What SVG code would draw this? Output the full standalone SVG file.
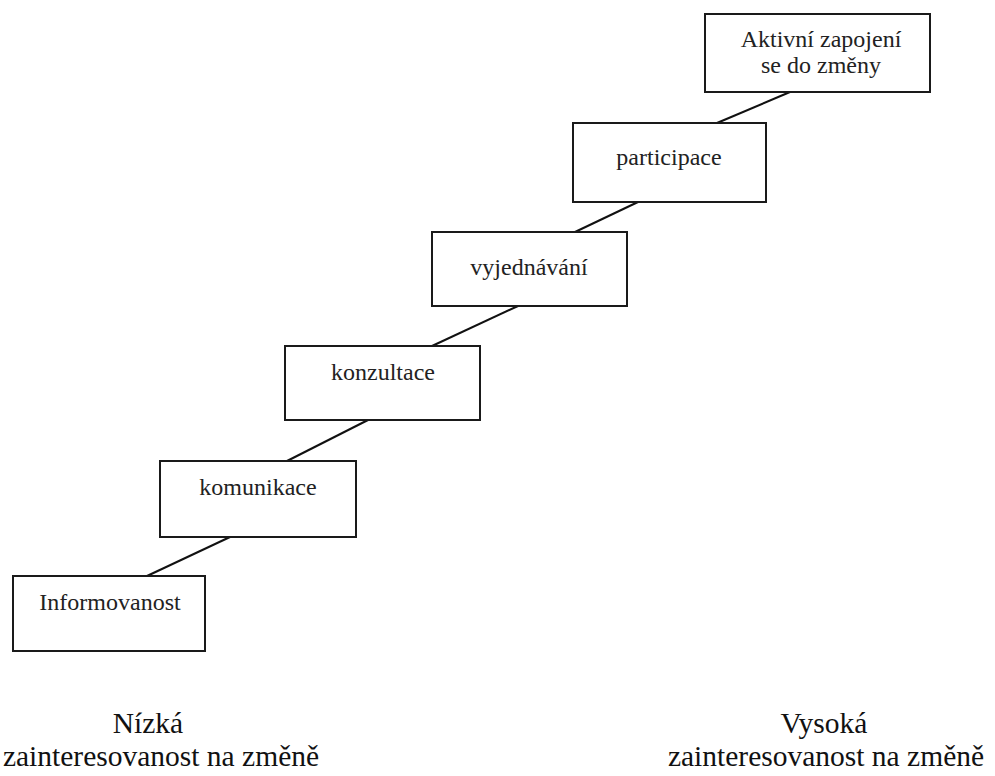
<svg xmlns="http://www.w3.org/2000/svg" width="995" height="776" viewBox="0 0 995 776">
<style>
.box{fill:#fff;stroke:#1a1a1a;stroke-width:2}
.t{font-family:"Liberation Serif","Times New Roman",serif;font-size:24px;fill:#222;text-anchor:middle}
.lbl{font-family:"Liberation Serif","Times New Roman",serif;font-size:29.5px;fill:#111;text-anchor:middle}
.con{stroke:#111;stroke-width:2;fill:none}
</style>
<rect width="995" height="776" fill="#fff"/>
<g id="connectors">
<line class="con" x1="147" y1="576" x2="230" y2="537"/>
<line class="con" x1="287" y1="461" x2="368" y2="420"/>
<line class="con" x1="432" y1="346" x2="518" y2="306"/>
<line class="con" x1="575" y1="232" x2="638" y2="202"/>
<line class="con" x1="717" y1="123" x2="790" y2="92"/>
</g>
<g id="informovanost">
<rect class="box" x="13" y="576" width="192" height="75"/>
<text class="t" x="110" y="610">Informovanost</text>
</g>
<g id="komunikace">
<rect class="box" x="160" y="461" width="196" height="76"/>
<text class="t" x="258" y="495">komunikace</text>
</g>
<g id="konzultace">
<rect class="box" x="285" y="346" width="195" height="74"/>
<text class="t" x="383" y="380">konzultace</text>
</g>
<g id="vyjednavani">
<rect class="box" x="432" y="232" width="195" height="74"/>
<text class="t" x="529" y="275">vyjednávání</text>
</g>
<g id="participace">
<rect class="box" x="573" y="123" width="193" height="79"/>
<text class="t" x="669" y="165">participace</text>
</g>
<g id="aktivni">
<rect class="box" x="705" y="14" width="225" height="78"/>
<text class="t" x="821" y="47">Aktivní zapojení</text>
<text class="t" x="821" y="73">se do změny</text>
</g>
<g id="low">
<text class="lbl" x="148" y="733">Nízká</text>
<text class="lbl" x="161" y="766">zainteresovanost na změně</text>
</g>
<g id="high">
<text class="lbl" x="824" y="733">Vysoká</text>
<text class="lbl" x="826" y="766">zainteresovanost na změně</text>
</g>
</svg>
